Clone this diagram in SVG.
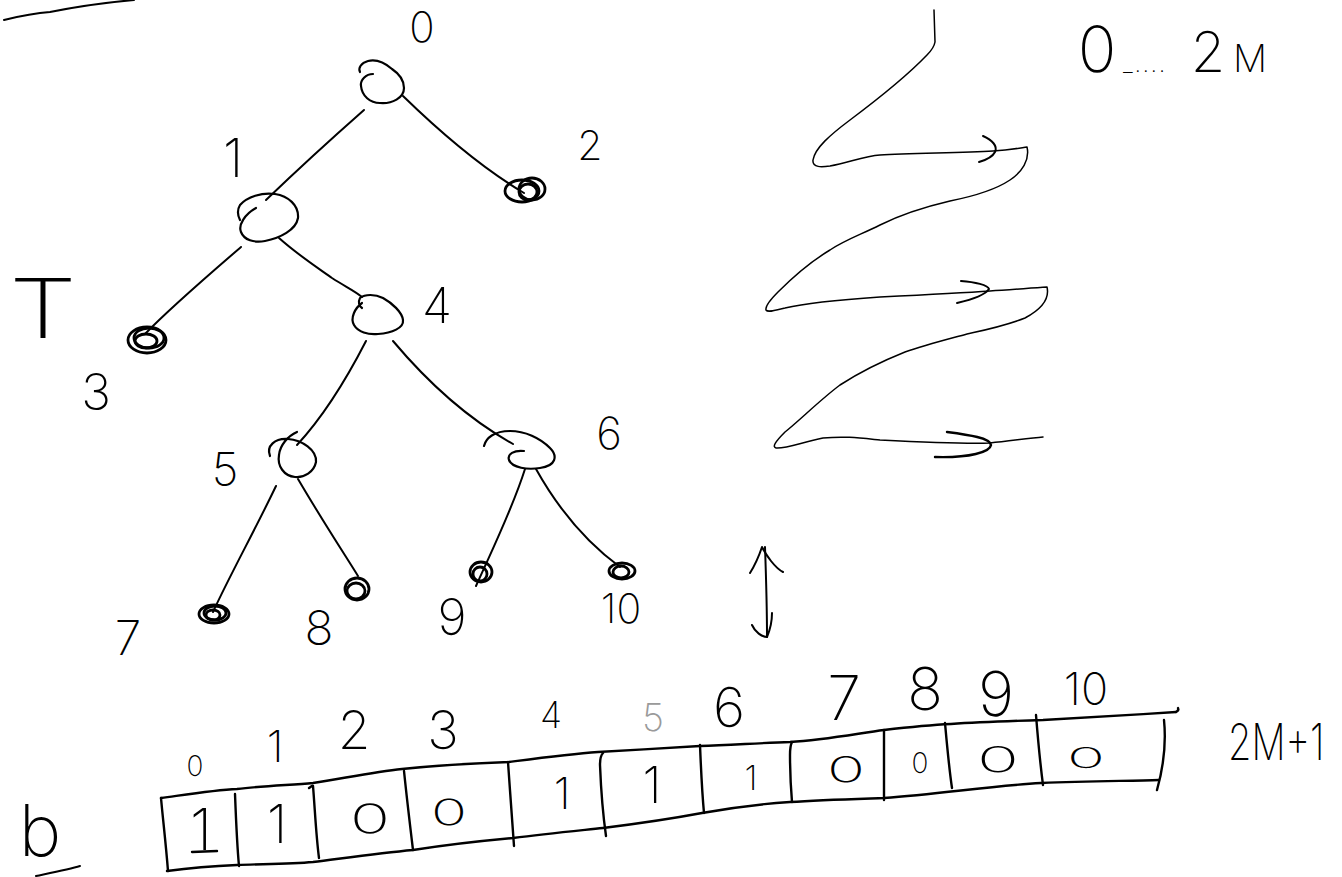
<svg xmlns="http://www.w3.org/2000/svg" width="1342" height="877" viewBox="0 0 1342 877">
  <style>
    .ink { fill: none; stroke: #000; stroke-linecap: round; stroke-linejoin: round; }
    .edge { stroke-width: 2; }
    .blob { stroke-width: 2.2; }
    .dot { stroke-width: 2.8; }
    .thin { stroke-width: 1.5; }
    .cell { stroke-width: 2.4; }
    .lbl { font-family: Inter, "Liberation Sans", sans-serif; font-weight: 250; fill: #000; text-anchor: middle; }
    .start { text-anchor: start; }
    .faint { fill: #9a9a9a; font-weight: 200; }
  </style>
  <rect width="1342" height="877" fill="#fff"/>

  <!-- stray pen stroke, top left -->
  <path class="ink edge" d="M4,20 C20,16 35,13 50,12 C70,8 100,3 134,0"/>

  <!-- tree title -->
  <text class="lbl" x="43" y="338" font-size="82" font-weight="200" textLength="68" lengthAdjust="spacingAndGlyphs">T</text>

  <!-- tree edges -->
  <g id="connectors" class="ink edge">
    <path d="M364,110 C330,140 292,175 266,200"/>
    <path d="M403,96 C440,132 482,168 524,193"/>
    <path d="M241,247 C205,278 170,308 145,334"/>
    <path d="M279,238 C298,255 318,268 332,278 C346,287 355,291 362,297"/>
    <path d="M366,341 C346,380 322,418 297,445"/>
    <path d="M393,341 C430,385 470,420 513,444"/>
    <path d="M276,486 C255,530 230,575 213,612"/>
    <path d="M298,479 C322,520 345,555 358,576"/>
    <path d="M525,469 C512,510 492,550 476,586"/>
    <path d="M536,469 C560,512 590,545 620,567"/>
  </g>

  <!-- tree nodes -->
  <g id="node-0">
    <path class="ink blob" d="M373,74 C366,74 360,80 361,86 C362,96 370,103 380,103 C392,104 404,98 404,88 C404,80 398,73 392,69 C385,63 376,59 368,61 C361,63 358,68 360,72"/>
    <text class="lbl" x="422" y="42" font-size="42">0</text>
  </g>
  <g id="node-1">
    <path class="ink blob" d="M256,208 C245,214 238,225 241,232 C244,240 254,243 265,241 C280,238 296,230 298,218 C299,205 288,196 275,194 C262,192 247,197 240,205 C237,210 238,216 240,220"/>
    <text class="lbl" x="233" y="177" font-size="53">1</text>
  </g>
  <g id="node-2">
    <g class="ink dot">
      <ellipse cx="522" cy="191" rx="17" ry="11"/>
      <ellipse cx="532" cy="189" rx="13" ry="11"/>
      <ellipse cx="528" cy="192" rx="9" ry="8"/>
    </g>
    <text class="lbl" x="590" y="160" font-size="41">2</text>
  </g>
  <g id="node-3">
    <g class="ink dot">
      <ellipse cx="147" cy="340" rx="19" ry="13"/>
      <ellipse cx="149" cy="338" rx="15" ry="10"/>
      <ellipse cx="146" cy="341" rx="11" ry="7"/>
    </g>
    <text class="lbl" x="96" y="410" font-size="50">3</text>
  </g>
  <g id="node-4">
    <path class="ink blob" d="M362,303 C355,308 350,318 354,325 C358,332 368,335 378,334 C392,333 404,328 403,320 C402,312 392,303 383,298 C375,294 365,294 360,298 C358,302 359,306 362,308"/>
    <text class="lbl" x="437" y="323" font-size="49">4</text>
  </g>
  <g id="node-5">
    <path class="ink blob" d="M270,456 C266,446 275,438 288,439 C302,440 317,450 316,462 C314,472 304,478 295,477 C284,476 277,466 279,455 C280,445 288,436 297,432"/>
    <text class="lbl" x="225" y="486" font-size="46">5</text>
  </g>
  <g id="node-6">
    <path class="ink blob" d="M484,446 C486,438 494,431 510,431 C525,431 540,438 550,448 C558,456 556,466 540,468 C528,470 512,468 509,460 C507,454 514,450 524,451"/>
    <text class="lbl" x="609" y="449" font-size="44">6</text>
  </g>
  <g id="node-7">
    <g class="ink dot">
      <ellipse cx="214" cy="614" rx="15" ry="9"/>
      <ellipse cx="215" cy="613" rx="11" ry="7"/>
      <ellipse cx="213" cy="615" rx="7" ry="5"/>
    </g>
    <text class="lbl" x="128" y="655" font-size="48">7</text>
  </g>
  <g id="node-8">
    <g class="ink dot">
      <ellipse cx="357" cy="589" rx="12" ry="11"/>
      <ellipse cx="356" cy="591" rx="9" ry="8"/>
    </g>
    <text class="lbl" x="319" y="645" font-size="48">8</text>
  </g>
  <g id="node-9">
    <g class="ink dot">
      <ellipse cx="481" cy="572" rx="11" ry="10"/>
      <ellipse cx="480" cy="574" rx="7" ry="7"/>
    </g>
    <text class="lbl" x="452" y="635" font-size="50">9</text>
  </g>
  <g id="node-10">
    <g class="ink dot">
      <ellipse cx="622" cy="571" rx="13" ry="8"/>
      <ellipse cx="621" cy="572" rx="8" ry="6"/>
    </g>
    <text class="lbl" x="621" y="623" font-size="41">10</text>
  </g>

  <!-- level-order traversal sweep -->
  <g id="sweep" class="ink thin">
    <path d="M934,10 L935,42 C934,48 930,52 927,55 C905,78 870,105 850,120 C830,135 815,148 813,160 C812,168 822,167 830,166 C850,162 865,156 880,155 C910,153 960,153 993,151 C1010,150 1020,148 1027,147 C1030,160 1022,172 1010,180 C995,190 975,196 950,201 C920,208 900,215 880,225 C860,235 845,240 830,250 C810,262 790,280 778,292 C770,300 765,306 766,310 C768,313 775,310 785,308 C810,302 850,299 880,297 C920,295 960,293 990,291 C1010,290 1030,288 1047,287 C1050,300 1040,310 1025,318 C1005,326 985,330 967,334 C945,340 925,345 905,352 C880,362 860,372 840,385 C820,400 800,420 785,432 C775,442 772,447 776,448 C785,449 800,443 823,438 C845,436 860,438 880,440 C920,442 960,444 990,443 C1010,441 1030,438 1043,437"/>
    <path stroke-width="2" d="M983,136 C992,140 998,146 995,152 C993,156 986,160 979,162"/>
    <path stroke-width="2" d="M961,281 C975,282 988,285 989,289 C985,295 970,300 957,303"/>
    <path stroke-width="2.4" d="M947,432 C970,435 990,438 991,445 C990,452 970,458 935,457"/>
  </g>
  <text class="lbl" font-size="64" y="72">
    <tspan x="1097">0</tspan><tspan x="1145" font-size="22" letter-spacing="2">_....</tspan><tspan x="1208" font-size="56">2</tspan><tspan x="1250" font-size="38">M</tspan>
  </text>

  <!-- tree <-> array -->
  <g id="link" class="ink edge">
    <path d="M765,547 C766,575 767,610 767,637"/>
    <path d="M750,573 C755,565 760,553 762,547 C766,555 775,568 783,572"/>
    <path d="M752,625 C755,632 762,637 767,637 C770,630 772,620 772,613"/>
  </g>

  <!-- bit array b -->
  <g id="array-b">
    <g class="ink cell">
      <path d="M161,798 C190,794 215,790 237,789 C262,786 290,785 313,783 C345,778 375,772 402,769 C440,765 480,763 509,762 C540,758 570,754 598,752 C630,750 670,748 700,746 C730,745 760,743 790,742 C825,740 860,733 884,730 C910,727 930,725 951,724 C980,722 1010,721 1043,720 C1080,718 1130,715 1176,712"/>
      <path d="M167,871 C190,868 215,866 237,865 C262,864 290,864 313,862 C345,858 380,853 413,850 C445,845 480,841 513,838 C545,834 575,831 603,828 C635,824 670,819 702,813 C730,808 760,804 790,802 C820,800 855,799 884,798 C940,794 990,786 1041,783 C1090,781 1130,781 1159,780"/>
      <path d="M161,798 C163,820 166,845 168,871"/>
      <path d="M235,794 C236,820 237,845 239,866"/>
      <path d="M309,788 C312,786 313,785 313,786 C315,810 316,835 319,858"/>
      <path d="M404,771 C407,800 410,825 413,850"/>
      <path d="M508,762 C510,790 512,820 514,846"/>
      <path d="M603,753 C600,756 600,760 600,765 C601,790 603,815 606,836"/>
      <path d="M700,745 C701,770 702,792 704,813"/>
      <path d="M792,742 C790,746 790,750 790,755 C790,775 791,790 792,802"/>
      <path d="M884,730 L884,800"/>
      <path d="M945,723 C947,745 949,768 952,788"/>
      <path d="M1036,715 C1038,740 1040,762 1043,785"/>
      <path d="M1164,720 C1166,740 1164,765 1157,790"/>
      <path d="M1176,712 C1178,711 1179,710 1178,708"/>
      <path d="M192,852 L217,851"/>
    </g>
    <!-- index row -->
    <g>
      <text class="lbl" x="195" y="776" font-size="28">0</text>
      <text class="lbl" x="275" y="762" font-size="44">1</text>
      <text class="lbl" x="354" y="749" font-size="53">2</text>
      <text class="lbl" x="443" y="749" font-size="53">3</text>
      <text class="lbl" x="551" y="728" font-size="36">4</text>
      <text class="lbl faint" x="653" y="731" font-size="38">5</text>
      <text class="lbl" x="729" y="727" font-size="55">6</text>
      <text class="lbl" x="844" y="720" font-size="61">7</text>
      <text class="lbl" x="925" y="710" font-size="59">8</text>
      <text class="lbl" x="996" y="716" font-size="62">9</text>
      <text class="lbl" x="1086" y="705" font-size="45">10</text>
    </g>
    <!-- bit values -->
    <g>
      <text class="lbl" x="201" y="850" font-size="58">1</text>
      <text class="lbl" x="277" y="843" font-size="53">1</text>
      <text class="lbl" x="370" y="833" font-size="40" textLength="40" lengthAdjust="spacingAndGlyphs">0</text>
      <text class="lbl" x="449" y="825" font-size="36" textLength="36" lengthAdjust="spacingAndGlyphs">0</text>
      <text class="lbl" x="562" y="809" font-size="44">1</text>
      <text class="lbl" x="652" y="803" font-size="50">1</text>
      <text class="lbl" x="751" y="790" font-size="34">1</text>
      <text class="lbl" x="846" y="782" font-size="35" textLength="38" lengthAdjust="spacingAndGlyphs">0</text>
      <text class="lbl" x="920" y="773" font-size="28">0</text>
      <text class="lbl" x="998" y="772" font-size="35" textLength="42" lengthAdjust="spacingAndGlyphs">0</text>
      <text class="lbl" x="1086" y="768" font-size="28" textLength="38" lengthAdjust="spacingAndGlyphs">0</text>
    </g>
    <text class="lbl start" transform="translate(1228,760) scale(0.76,1)" font-size="50">2M+1</text>
    <text class="lbl" x="40" y="856" font-size="72">b</text>
    <path class="ink edge" d="M36,876 C55,872 70,869 80,866"/>
  </g>
</svg>
